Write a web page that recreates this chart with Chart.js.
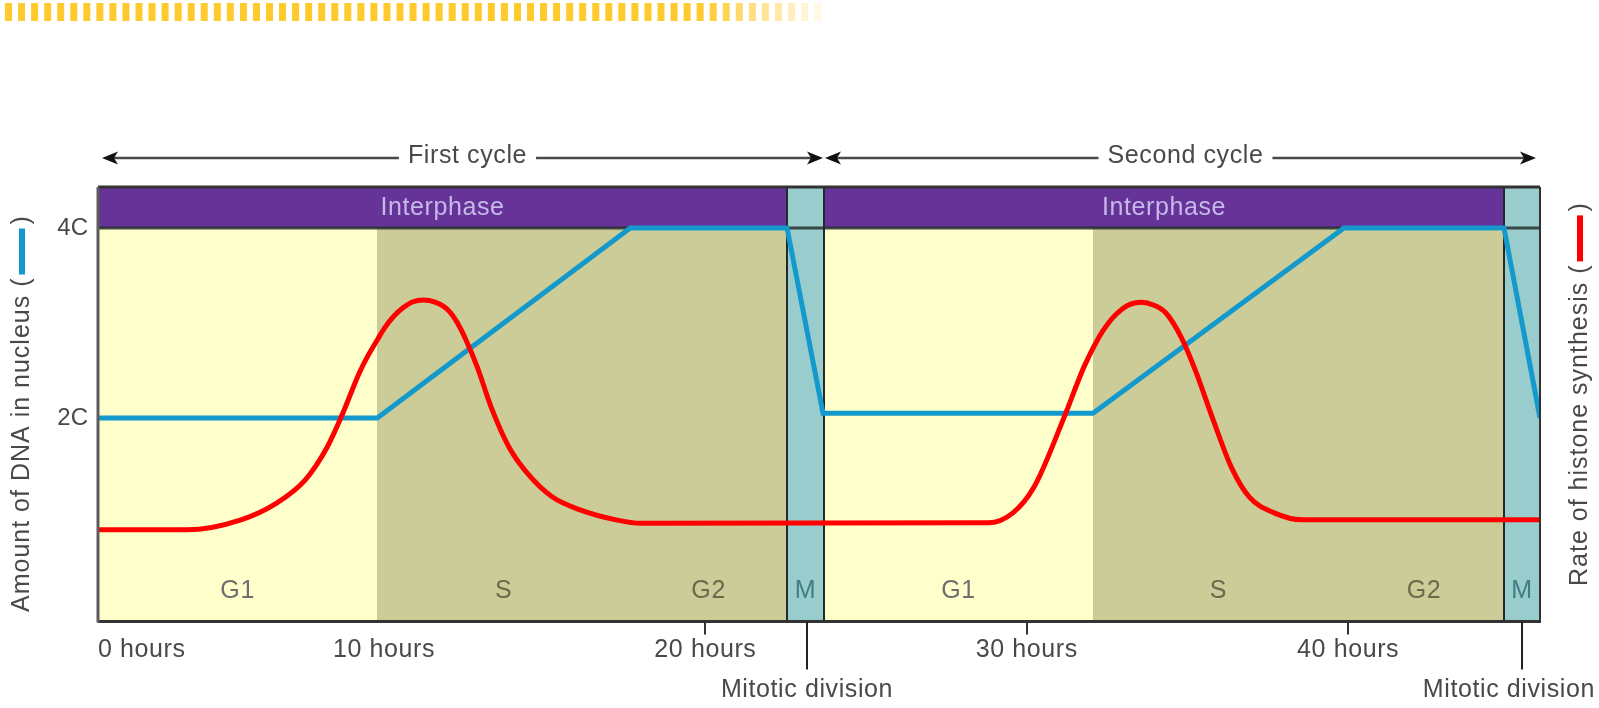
<!DOCTYPE html>
<html>
<head>
<meta charset="utf-8">
<title>Cell cycle: DNA content and histone synthesis</title>
<script src="https://cdn.jsdelivr.net/npm/chart.js@4.4.1/dist/chart.umd.min.js"></script>
<style>
  html, body { margin: 0; padding: 0; background: #ffffff; overflow: hidden; }
  canvas { display: block; }
</style>
</head>
<body>
<canvas id="cycle" width="1599" height="708"></canvas>
<script>
// ---- time axis (hours); the plotted window opens shortly after hour 0 ----
const hourTicks = [0, 10, 20, 30, 40];
const hourTickLabels = ['0 hours', '10 hours', '20 hours', '30 hours', '40 hours'];
const markedHourTicks = [20, 30, 40];
const timeStart = 1.10;
const timeEnd = 45.97;

// ---- DNA axis ----
const dnaTicks = [2, 4];
const dnaTickLabels = ['2C', '4C'];

// ---- cell-cycle phases ----
const phaseNames = ['G1', 'S', 'G2', 'M', 'G1', 'S', 'G2', 'M'];
const phaseStart = [1.10, 9.79, 17.66, 22.54, 23.69, 32.06, 39.87, 44.85];
const phaseEnd   = [9.79, 17.66, 22.54, 23.69, 32.06, 39.87, 44.85, 45.97];

const interphaseStart = [1.10, 23.69];
const interphaseEnd   = [22.54, 44.85];

const cycleNames = ['First cycle', 'Second cycle'];
const cycleStart = [1.10, 23.69];
const cycleEnd   = [23.69, 45.97];

const mitosisHours = [23.17, 45.41];
const mitosisLabel = 'Mitotic division';

// ---- amount of DNA in nucleus (C) ----
const dnaHours  = [1.10, 9.79, 17.66, 22.54, 23.66, 32.06, 39.87, 44.85, 45.97];
const dnaAmount = [2.0, 2.0, 4.0, 4.0, 2.05, 2.05, 4.0, 4.0, 2.0];

// ---- rate of histone synthesis (relative) ----
const histoneHours = [1.10, 3.87, 5.55, 6.67, 7.55, 8.23, 8.67, 9.23, 9.51, 9.79,
  10.03, 10.31, 10.59, 10.90, 11.22, 11.59, 11.99, 12.27, 12.55, 12.90,
  13.33, 13.89, 14.45, 15.23, 16.10, 17.22, 18.00, 28.80, 29.57, 30.23,
  31.13, 31.78, 32.25, 32.53, 32.78, 33.15, 33.56, 33.96, 34.33, 34.80,
  35.24, 35.80, 36.36, 36.92, 37.70, 38.57, 45.97];
const histoneRate = [0.211, 0.211, 0.234, 0.273, 0.326, 0.401, 0.471, 0.572, 0.613, 0.648,
  0.677, 0.703, 0.722, 0.736, 0.740, 0.735, 0.717, 0.689, 0.648, 0.586,
  0.494, 0.401, 0.342, 0.287, 0.257, 0.234, 0.226, 0.227, 0.250, 0.310,
  0.464, 0.586, 0.655, 0.686, 0.707, 0.728, 0.735, 0.728, 0.710, 0.655,
  0.579, 0.464, 0.356, 0.287, 0.250, 0.234, 0.234];

const FONT = "'Liberation Sans', Arial, Helvetica, sans-serif";
const TEXT = '#494949';

const phaseFill = { G1: '#ffffcc', S: '#cccc99', G2: '#cccc99', M: '#99cccc' };
const phaseText = { G1: '#6e6e6e', S: '#6c6a4a', G2: '#6c6a4a', M: '#3f7f84' };
const INTERPHASE_FILL = '#663399';

// background and the ribbon of dashes along the top edge
const backdrop = {
  id: 'backdrop',
  beforeDraw(chart) {
    const ctx = chart.ctx;
    ctx.save();
    ctx.fillStyle = '#ffffff';
    ctx.fillRect(0, 0, chart.width, chart.height);
    const count = 63, pitch = 13.05;
    for (let i = 0; i < count; i++) {
      ctx.globalAlpha = i < 54 ? 1 : Math.max(0.12, 1 - (i - 53) / 10);
      ctx.fillStyle = '#ffca2e';
      ctx.fillRect(5 + i * pitch, 3, 7, 18);
    }
    ctx.restore();
  }
};

// phase bands, interphase bar, phase names
const phaseBands = {
  id: 'phaseBands',
  beforeDatasetsDraw(chart) {
    const { ctx, chartArea: a, scales: { x, yDna } } = chart;
    const y4 = Math.round(yDna.getPixelForValue(4));
    const px = h => Math.round(x.getPixelForValue(h));
    ctx.save();
    phaseNames.forEach((name, i) => {
      const x0 = px(phaseStart[i]), x1 = px(phaseEnd[i]);
      ctx.fillStyle = phaseFill[name];
      ctx.fillRect(x0, a.top, x1 - x0, a.bottom - a.top);
    });
    ctx.fillStyle = INTERPHASE_FILL;
    interphaseStart.forEach((s, i) => {
      const x0 = px(s), x1 = px(interphaseEnd[i]);
      ctx.fillRect(x0, a.top, x1 - x0, y4 - a.top);
    });

    ctx.letterSpacing = '0.6px';
    ctx.font = `25px ${FONT}`;
    ctx.textAlign = 'center';
    ctx.textBaseline = 'middle';
    phaseNames.forEach((name, i) => {
      const xc = (x.getPixelForValue(phaseStart[i]) + x.getPixelForValue(phaseEnd[i])) / 2;
      ctx.fillStyle = phaseText[name];
      ctx.fillText(name, xc, a.bottom - 30);
    });

    ctx.fillStyle = '#c4b9e8';
    interphaseStart.forEach((s, i) => {
      const xc = (x.getPixelForValue(s) + x.getPixelForValue(interphaseEnd[i])) / 2;
      ctx.fillText('Interphase', xc, (a.top + y4) / 2 + 1);
    });
    ctx.letterSpacing = '0px';

    // rule under the interphase bar
    ctx.strokeStyle = 'rgba(38,48,48,0.85)';
    ctx.lineWidth = 3;
    ctx.beginPath();
    ctx.moveTo(a.left, y4);
    ctx.lineTo(a.right, y4);
    ctx.stroke();

    // edges of the mitosis columns
    ctx.strokeStyle = '#1f2a2a';
    ctx.lineWidth = 2;
    phaseNames.forEach((name, i) => {
      if (name !== 'M') return;
      [phaseStart[i], phaseEnd[i]].forEach(h => {
        const xp = px(h);
        ctx.beginPath();
        ctx.moveTo(xp, a.top);
        ctx.lineTo(xp, a.bottom);
        ctx.stroke();
      });
    });
    ctx.restore();
  },
  afterDatasetsDraw(chart) {
    const { ctx, chartArea: a } = chart;
    ctx.save();
    ctx.strokeStyle = '#333333';
    ctx.lineWidth = 3;
    ctx.beginPath();
    ctx.moveTo(a.left, a.top); ctx.lineTo(a.right, a.top);
    ctx.moveTo(a.left, a.bottom); ctx.lineTo(a.right + 1, a.bottom);
    ctx.stroke();
    ctx.lineWidth = 2;
    ctx.beginPath();
    ctx.moveTo(a.right, a.top); ctx.lineTo(a.right, a.bottom);
    ctx.stroke();
    ctx.strokeStyle = '#5c5c5c';
    ctx.lineWidth = 3;
    ctx.beginPath();
    ctx.moveTo(a.left, a.top); ctx.lineTo(a.left, a.bottom + 1);
    ctx.stroke();
    ctx.restore();
  }
};

function arrowHead(ctx, tipX, y, dir) {
  ctx.beginPath();
  ctx.moveTo(tipX, y);
  ctx.lineTo(tipX - dir * 16, y - 6.5);
  ctx.lineTo(tipX - dir * 12, y);
  ctx.lineTo(tipX - dir * 16, y + 6.5);
  ctx.closePath();
  ctx.fill();
}

function verticalTitle(ctx, cx, bottomY, text, barColor) {
  ctx.save();
  ctx.translate(cx, bottomY);
  ctx.rotate(-Math.PI / 2);
  ctx.font = `25px ${FONT}`;
  ctx.letterSpacing = '1px';
  ctx.fillStyle = TEXT;
  ctx.textAlign = 'left';
  ctx.textBaseline = 'middle';
  const head = text + ' (';
  ctx.fillText(head, 0, 0);
  let w = ctx.measureText(head).width + 3;
  ctx.fillStyle = barColor;
  ctx.fillRect(w, -3, 46, 6);
  w += 46 + 4;
  ctx.fillStyle = TEXT;
  ctx.fillText(')', w, 0);
  ctx.letterSpacing = '0px';
  ctx.restore();
}

// time axis, mitosis markers, cycle arrows, axis titles
const annotations = {
  id: 'annotations',
  afterDraw(chart) {
    const { ctx, chartArea: a, scales: { x } } = chart;
    ctx.save();

    // hour ticks
    ctx.strokeStyle = '#333333';
    ctx.lineWidth = 2;
    markedHourTicks.forEach(h => {
      const xp = Math.round(x.getPixelForValue(h));
      ctx.beginPath();
      ctx.moveTo(xp, a.bottom);
      ctx.lineTo(xp, a.bottom + 13);
      ctx.stroke();
    });
    ctx.letterSpacing = '0.6px';
    ctx.font = `25px ${FONT}`;
    ctx.fillStyle = TEXT;
    ctx.textBaseline = 'middle';
    hourTicks.forEach((h, i) => {
      const xp = x.getPixelForValue(h);
      const w = ctx.measureText(hourTickLabels[i]).width;
      if (xp - w / 2 < a.left) {
        ctx.textAlign = 'left';
        ctx.fillText(hourTickLabels[i], Math.max(xp, a.left), a.bottom + 29);
      } else {
        ctx.textAlign = 'center';
        ctx.fillText(hourTickLabels[i], xp, a.bottom + 29);
      }
    });

    // mitotic division markers
    ctx.strokeStyle = '#222222';
    ctx.lineWidth = 2;
    mitosisHours.forEach(h => {
      const xp = Math.round(x.getPixelForValue(h));
      ctx.beginPath();
      ctx.moveTo(xp, a.bottom);
      ctx.lineTo(xp, a.bottom + 48);
      ctx.stroke();
      const w = ctx.measureText(mitosisLabel).width;
      const xc = Math.min(xp, chart.width - 4 - w / 2);
      ctx.textAlign = 'center';
      ctx.fillText(mitosisLabel, xc, a.bottom + 69);
    });

    // cycle arrows
    const ay = 158;
    cycleNames.forEach((name, i) => {
      const xs = x.getPixelForValue(cycleStart[i]) + (cycleStart[i] === x.min ? 4 : 1);
      const xe = x.getPixelForValue(cycleEnd[i]) - (cycleEnd[i] === x.max ? 4 : 1);
      const xc = (xs + xe) / 2 + 5;
      const half = ctx.measureText(name).width / 2 + 9;
      ctx.strokeStyle = '#4a4a4a';
      ctx.lineWidth = 2.5;
      ctx.beginPath();
      ctx.moveTo(xs + 10, ay); ctx.lineTo(xc - half, ay);
      ctx.moveTo(xc + half, ay); ctx.lineTo(xe - 10, ay);
      ctx.stroke();
      ctx.fillStyle = '#111111';
      arrowHead(ctx, xs, ay, -1);
      arrowHead(ctx, xe, ay, 1);
      ctx.fillStyle = TEXT;
      ctx.textAlign = 'center';
      ctx.fillText(name, xc, ay - 2);
    });
    ctx.letterSpacing = '0px';
    ctx.restore();

    verticalTitle(ctx, 22, 612, 'Amount of DNA in nucleus', '#1399cc');
    verticalTitle(ctx, 1580, 586, 'Rate of histone synthesis', '#ff0000');
  }
};

new Chart(document.getElementById('cycle'), {
  type: 'line',
  data: {
    datasets: [
      {
        label: 'Rate of histone synthesis',
        data: histoneHours.map((h, i) => ({ x: h, y: histoneRate[i] })),
        yAxisID: 'yRate',
        borderColor: '#ff0000',
        borderWidth: 5,
        pointRadius: 0,
        cubicInterpolationMode: 'monotone',
        tension: 0.4,
        fill: false
      },
      {
        label: 'Amount of DNA in nucleus',
        data: dnaHours.map((h, i) => ({ x: h, y: dnaAmount[i] })),
        yAxisID: 'yDna',
        borderColor: '#1399cc',
        borderWidth: 5,
        borderJoinStyle: 'miter',
        pointRadius: 0,
        tension: 0,
        fill: false
      }
    ]
  },
  options: {
    responsive: false,
    animation: false,
    devicePixelRatio: 1,
    layout: { padding: { left: 0, right: 59, top: 187, bottom: 86.5 } },
    plugins: { legend: { display: false }, tooltip: { enabled: false } },
    scales: {
      x: { type: 'linear', min: timeStart, max: timeEnd, display: false },
      yDna: {
        type: 'linear',
        position: 'left',
        min: -0.14,
        max: 4.43,
        afterBuildTicks: s => { s.ticks = dnaTicks.map(v => ({ value: v })); },
        afterFit: s => { s.width = 98; },
        ticks: {
          callback: (v, i) => dnaTickLabels[i],
          font: { family: FONT, size: 24 },
          color: TEXT,
          padding: 10
        },
        grid: { display: false, drawTicks: false },
        border: { display: false }
      },
      yRate: { type: 'linear', position: 'right', min: 0, max: 1, display: false }
    }
  },
  plugins: [backdrop, phaseBands, annotations]
});
</script>
</body>
</html>
